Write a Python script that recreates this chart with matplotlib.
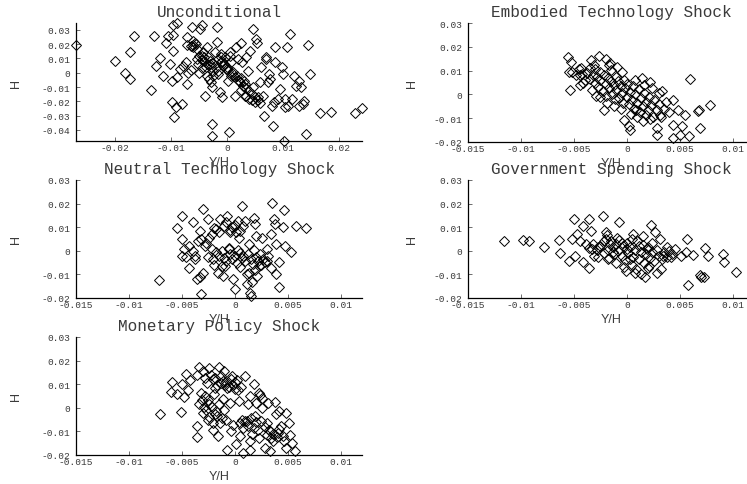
import matplotlib
matplotlib.use("Agg")
import matplotlib.pyplot as plt
import numpy as np

plt.rcParams["axes.unicode_minus"] = False

# ---- data (Y/H, H) ----
uncond_pts = [
    (-0.0270, 0.0196), (-0.0201, 0.0084), (-0.0167, 0.0254), (-0.0174, 0.0147), (-0.0182, 0.0000),
    (-0.0174, -0.0044), (-0.0136, -0.0124), (-0.0130, 0.0254), (-0.0126, 0.0049), (-0.0120, 0.0100),
    (-0.0114, -0.0026), (-0.0109, 0.0207), (-0.0105, 0.0254), (-0.0102, 0.0060), (-0.0099, -0.0060),
    (-0.0097, 0.0154), (-0.0096, 0.0330), (-0.0090, 0.0347), (-0.0096, 0.0260), (-0.0098, -0.0207),
    (-0.0091, -0.0242), (-0.0095, -0.0310), (-0.0081, -0.0220), (-0.0090, -0.0030), (-0.0084, 0.0026),
    (-0.0079, 0.0049), (-0.0073, 0.0072), (-0.0072, -0.0079), (-0.0072, 0.0247), (-0.0072, 0.0190),
    (-0.0063, 0.0317), (-0.0061, 0.0190), (-0.0060, 0.0224), (-0.0057, 0.0210), (-0.0054, 0.0165),
    (-0.0054, 0.0096), (-0.0051, 0.0060), (-0.0048, 0.0305), (-0.0045, 0.0330), (-0.0045, 0.0120),
    (-0.0042, 0.0142), (-0.0041, 0.0084), (-0.0039, -0.0160), (-0.0037, 0.0037), (-0.0036, 0.0177),
    (-0.0036, -0.0021), (-0.0033, 0.0107), (-0.0032, -0.0044), (-0.0030, 0.0060), (-0.0029, -0.0068),
    (-0.0027, -0.0103), (-0.0026, -0.0359), (-0.0027, -0.0440), (-0.0024, 0.0014), (-0.0021, 0.0142),
    (-0.0018, 0.0317), (-0.0017, 0.0217), (-0.0015, -0.0009), (-0.0013, -0.0138), (-0.0008, -0.0172),
    (-0.0010, 0.0072), (-0.0011, 0.0130), (-0.0007, 0.0049), (-0.0004, 0.0107), (0.0000, 0.0026),
    (0.0002, -0.0056), (0.0004, -0.0417), (0.0005, 0.0142), (0.0008, 0.0072), (0.0011, 0.0002),
    (0.0014, -0.0160), (0.0016, 0.0177), (0.0018, -0.0021), (0.0020, 0.0096), (0.0022, -0.0056),
    (0.0024, -0.0068), (0.0026, 0.0210), (0.0028, 0.0072), (0.0029, -0.0091), (0.0032, -0.0160),
    (0.0035, 0.0107), (0.0038, 0.0014), (0.0040, -0.0184), (0.0042, 0.0154), (0.0046, -0.0103),
    (0.0047, 0.0305), (0.0050, -0.0207), (0.0053, 0.0235), (0.0054, 0.0210), (0.0056, -0.0172),
    (0.0059, -0.0068), (0.0062, 0.0037), (0.0064, -0.0160), (0.0066, -0.0300), (0.0070, 0.0107),
    (0.0071, 0.0096), (0.0074, -0.0068), (0.0076, -0.0009), (0.0077, -0.0044), (0.0080, -0.0230),
    (0.0082, -0.0370), (0.0084, -0.0207), (0.0086, 0.0072), (0.0087, 0.0177), (0.0092, -0.0184),
    (0.0095, -0.0114), (0.0098, 0.0037), (0.0101, -0.0009), (0.0102, -0.0477), (0.0104, -0.0184),
    (0.0105, -0.0242), (0.0108, 0.0177), (0.0110, -0.0230), (0.0113, 0.0270), (0.0117, -0.0184),
    (0.0121, -0.0021), (0.0124, -0.0091), (0.0129, -0.0056), (0.0130, -0.0230), (0.0133, -0.0103),
    (0.0136, -0.0219), (0.0139, -0.0196), (0.0141, -0.0429), (0.0145, 0.0190), (0.0149, -0.0009),
    (0.0166, -0.0284), (0.0187, -0.0273), (0.0230, -0.0282), (0.0242, -0.0250),
    (-0.0050, 0.0120), (-0.0045, 0.0090), (-0.0040, 0.0110), (-0.0035, 0.0060), (-0.0030, 0.0080),
    (-0.0028, 0.0040), (-0.0025, 0.0070), (-0.0020, 0.0030), (-0.0015, 0.0095), (-0.0010, 0.0110),
    (-0.0008, 0.0080), (-0.0005, 0.0060), (0.0000, 0.0040), (0.0003, 0.0010), (0.0008, -0.0020),
    (0.0010, 0.0000), (0.0015, -0.0030), (0.0020, -0.0050), (0.0025, -0.0040), (0.0030, -0.0060),
    (0.0032, -0.0080), (0.0035, -0.0110), (0.0040, -0.0130), (0.0045, -0.0150), (0.0050, -0.0170),
    (0.0055, -0.0190), (0.0060, -0.0210), (0.0045, -0.0190), (0.0035, -0.0160), (0.0025, -0.0120),
    (-0.0055, 0.0200), (-0.0060, 0.0180), (-0.0065, 0.0185), (-0.0045, 0.0035), (-0.0050, 0.0000),
    (-0.0025, -0.0020), (-0.0015, 0.0015), (0.0005, 0.0120), (-0.0070, 0.0000), (-0.0065, 0.0020),
]

embodied_pts = [
    (-0.0056, 0.0156), (-0.0053, 0.0138), (-0.0055, 0.0096), (-0.0054, 0.0020), (-0.0043, 0.0110),
    (-0.0044, 0.0082), (-0.0041, 0.0047), (-0.0034, 0.0145), (-0.0031, 0.0124), (-0.0026, 0.0162),
    (-0.0020, 0.0148), (-0.0029, -0.0008), (-0.0022, -0.0064), (-0.0017, 0.0124), (-0.0016, 0.0131),
    (-0.0009, 0.0117), (-0.0005, 0.0096), (-0.0003, -0.0106), (0.0002, -0.0134), (0.0003, -0.0148),
    (0.0009, -0.0064), (0.0014, 0.0068), (0.0022, 0.0054), (0.0028, -0.0141), (0.0028, -0.0169),
    (0.0033, 0.0013), (0.0031, -0.0085), (0.0044, -0.0022), (0.0044, -0.0127), (0.0044, -0.0183),
    (0.0048, -0.0064), (0.0052, -0.0134), (0.0050, -0.0169), (0.0055, -0.0085), (0.0060, 0.0066),
    (0.0059, -0.0176), (0.0067, -0.0071), (0.0068, -0.0064), (0.0069, -0.0141), (0.0078, -0.0043),
    (-0.0045, 0.0105), (-0.0042, 0.0085), (-0.0040, 0.0060), (-0.0038, 0.0090), (-0.0035, 0.0110),
    (-0.0035, 0.0065), (-0.0032, 0.0080), (-0.0030, 0.0105), (-0.0030, 0.0050), (-0.0028, 0.0072),
    (-0.0027, 0.0030), (-0.0025, 0.0095), (-0.0025, 0.0060), (-0.0023, 0.0015), (-0.0022, 0.0082),
    (-0.0020, 0.0045), (-0.0020, -0.0005), (-0.0018, 0.0070), (-0.0017, 0.0025), (-0.0015, 0.0102),
    (-0.0015, 0.0055), (-0.0014, 0.0000), (-0.0012, 0.0040), (-0.0011, -0.0020), (-0.0010, 0.0075),
    (-0.0010, 0.0020), (-0.0008, 0.0058), (-0.0007, -0.0015), (-0.0006, 0.0035), (-0.0005, 0.0005),
    (-0.0004, -0.0035), (-0.0003, 0.0062), (-0.0002, 0.0025), (0.0000, -0.0010), (0.0000, 0.0042),
    (0.0002, -0.0040), (0.0003, 0.0012), (0.0005, -0.0025), (0.0006, 0.0035), (0.0007, -0.0060),
    (0.0008, 0.0000), (0.0010, -0.0035), (0.0011, 0.0022), (0.0012, -0.0075), (0.0013, -0.0015),
    (0.0015, -0.0050), (0.0016, 0.0005), (0.0018, -0.0085), (0.0018, -0.0030), (0.0020, -0.0065),
    (0.0021, -0.0010), (0.0023, -0.0045), (0.0025, -0.0095), (0.0026, -0.0025), (0.0028, -0.0065),
    (0.0030, -0.0040), (0.0032, -0.0095), (0.0035, -0.0060), (0.0037, -0.0030), (0.0040, -0.0075),
    (-0.0033, 0.0018), (-0.0025, -0.0010), (-0.0019, -0.0035), (-0.0012, -0.0050), (-0.0006, -0.0060),
    (0.0004, -0.0082), (0.0010, -0.0095), (0.0015, -0.0110), (0.0022, -0.0105), (0.0008, 0.0060),
    (0.0016, 0.0040), (0.0024, 0.0025), (0.0030, 0.0005), (-0.0048, 0.0080), (-0.0052, 0.0095),
    (-0.0044, 0.0040),
]

neutral_pts = [
    (-0.0072, -0.0123), (-0.0055, 0.0095), (-0.0050, 0.0148), (-0.0040, 0.0123), (-0.0030, 0.0177),
    (-0.0025, 0.0134), (-0.0050, 0.0049), (-0.0048, 0.0007), (-0.0050, -0.0024), (-0.0046, -0.0028),
    (-0.0043, 0.0021), (-0.0043, -0.0071), (-0.0038, -0.0035), (-0.0036, -0.0120), (-0.0033, -0.0113),
    (-0.0032, -0.0184), (-0.0030, -0.0092), (-0.0033, 0.0085), (-0.0032, 0.0052), (-0.0027, 0.0035),
    (-0.0024, 0.0056), (-0.0022, 0.0007), (-0.0021, -0.0035), (-0.0018, 0.0092), (-0.0016, -0.0092),
    (-0.0014, 0.0134), (-0.0012, -0.0064), (-0.0011, -0.0106), (-0.0008, 0.0120), (-0.0007, 0.0148),
    (-0.0006, 0.0007), (-0.0005, 0.0078), (-0.0003, 0.0099), (-0.0002, -0.0120), (0.0000, -0.0162),
    (0.0001, 0.0078), (0.0003, 0.0127), (0.0004, 0.0056), (0.0007, 0.0188), (0.0008, -0.0021),
    (0.0010, 0.0127), (0.0011, -0.0099), (0.0011, -0.0141), (0.0013, -0.0092), (0.0014, -0.0177),
    (0.0015, -0.0191), (0.0016, -0.0131), (0.0018, 0.0141), (0.0019, 0.0113), (0.0020, 0.0064),
    (0.0021, -0.0106), (0.0023, -0.0064), (0.0026, 0.0056), (0.0028, -0.0049), (0.0030, 0.0007),
    (0.0031, -0.0021), (0.0034, -0.0071), (0.0035, 0.0202), (0.0034, 0.0071), (0.0037, 0.0134),
    (0.0038, 0.0113), (0.0039, 0.0028), (0.0039, -0.0099), (0.0042, -0.0155), (0.0042, -0.0049),
    (0.0045, 0.0099), (0.0046, 0.0174), (0.0047, 0.0021), (0.0053, -0.0007), (0.0058, 0.0106),
    (0.0067, 0.0097),
    (-0.0015, -0.0020), (-0.0010, -0.0030), (-0.0008, -0.0045), (-0.0005, -0.0015), (-0.0003, -0.0035),
    (0.0000, -0.0020), (0.0002, -0.0050), (0.0005, -0.0010), (0.0007, -0.0030), (0.0010, -0.0045),
    (0.0012, -0.0015), (0.0015, -0.0035), (0.0017, -0.0055), (0.0020, -0.0025), (0.0022, -0.0045),
    (0.0025, -0.0060), (0.0027, -0.0035), (-0.0012, 0.0000), (-0.0006, 0.0010), (0.0003, 0.0005),
    (-0.0020, 0.0095), (-0.0015, 0.0080), (-0.0010, 0.0105), (-0.0005, 0.0090), (0.0000, 0.0110),
    (0.0005, 0.0085), (0.0008, 0.0105), (-0.0022, 0.0070), (-0.0018, -0.0005), (-0.0025, -0.0025),
    (-0.0028, 0.0020), (0.0013, 0.0030), (0.0018, 0.0005), (0.0024, -0.0015), (0.0030, -0.0045),
    (-0.0009, -0.0065), (0.0005, -0.0070), (0.0019, -0.0080), (-0.0020, -0.0060), (-0.0035, 0.0040),
    (-0.0040, 0.0000), (-0.0038, -0.0020),
]

government_pts = [
    (-0.0116, 0.0042), (-0.0098, 0.0045), (-0.0092, 0.0042), (-0.0078, 0.0014), (-0.0064, 0.0047),
    (-0.0063, -0.0010), (-0.0055, -0.0042), (-0.0052, 0.0052), (-0.0050, 0.0134), (-0.0049, -0.0021),
    (-0.0047, 0.0071), (-0.0044, 0.0042), (-0.0041, -0.0049), (-0.0041, 0.0103), (-0.0039, 0.0028),
    (-0.0036, 0.0134), (-0.0036, -0.0071), (-0.0034, 0.0085), (-0.0033, 0.0007), (-0.0031, -0.0021),
    (-0.0027, 0.0014), (-0.0023, 0.0148), (-0.0022, 0.0042), (-0.0020, 0.0080), (-0.0018, -0.0035),
    (-0.0016, 0.0028), (-0.0013, -0.0007), (-0.0009, 0.0056), (-0.0007, 0.0123), (-0.0005, 0.0035),
    (-0.0001, -0.0085), (0.0000, 0.0007), (0.0003, -0.0035), (0.0006, 0.0071), (0.0008, -0.0092),
    (0.0011, 0.0021), (0.0013, -0.0099), (0.0015, 0.0064), (0.0017, -0.0113), (0.0019, 0.0007),
    (0.0020, -0.0071), (0.0023, 0.0109), (0.0024, 0.0035), (0.0027, 0.0078), (0.0028, -0.0092),
    (0.0031, 0.0049), (0.0032, -0.0078), (0.0034, -0.0021), (0.0038, 0.0014), (0.0042, -0.0028),
    (0.0045, 0.0007), (0.0051, -0.0021), (0.0057, 0.0049), (0.0058, -0.0145), (0.0056, -0.0007),
    (0.0062, -0.0018), (0.0069, -0.0103), (0.0070, -0.0109), (0.0073, -0.0109), (0.0074, 0.0010),
    (0.0077, -0.0021), (0.0091, -0.0014), (0.0092, -0.0049), (0.0103, -0.0089),
    (-0.0025, 0.0020), (-0.0022, -0.0010), (-0.0020, 0.0050), (-0.0018, 0.0005), (-0.0017, -0.0030),
    (-0.0015, 0.0040), (-0.0013, 0.0015), (-0.0012, -0.0015), (-0.0010, 0.0030), (-0.0010, -0.0050),
    (-0.0008, 0.0000), (-0.0007, 0.0045), (-0.0005, -0.0020), (-0.0004, 0.0020), (-0.0002, -0.0040),
    (0.0000, 0.0035), (0.0001, -0.0010), (0.0003, 0.0015), (0.0005, -0.0060), (0.0006, -0.0025),
    (0.0008, 0.0005), (0.0010, 0.0040), (0.0011, -0.0035), (0.0013, -0.0005), (0.0015, 0.0025),
    (0.0016, -0.0050), (0.0018, -0.0015), (0.0020, 0.0015), (0.0022, -0.0030), (0.0024, -0.0005),
    (0.0026, -0.0045), (0.0028, 0.0005), (0.0030, -0.0020), (0.0033, -0.0035), (0.0035, -0.0005),
    (0.0038, -0.0025), (0.0040, 0.0000), (0.0043, -0.0015), (-0.0028, 0.0005), (-0.0032, 0.0030),
    (-0.0036, 0.0010), (-0.0027, -0.0025), (-0.0019, 0.0065), (0.0005, 0.0050), (-0.0003, -0.0070),
    (0.0021, -0.0065), (0.0009, -0.0075),
]

monetary_pts = [
    (-0.0071, -0.0028), (-0.0051, -0.0017), (-0.0059, 0.0111), (-0.0060, 0.0068), (-0.0055, 0.0060),
    (-0.0050, 0.0099), (-0.0048, 0.0045), (-0.0046, 0.0145), (-0.0044, 0.0074), (-0.0042, 0.0116),
    (-0.0036, -0.0078), (-0.0036, -0.0125), (-0.0036, 0.0139), (-0.0034, 0.0173), (-0.0034, 0.0014),
    (-0.0032, 0.0064), (-0.0030, -0.0021), (-0.0030, 0.0156), (-0.0028, 0.0050), (-0.0025, -0.0050),
    (-0.0024, 0.0170), (-0.0024, 0.0014), (-0.0021, -0.0092), (-0.0021, 0.0121), (-0.0019, 0.0085),
    (-0.0018, -0.0014), (-0.0016, -0.0121), (-0.0015, 0.0173), (-0.0014, -0.0064), (-0.0013, 0.0107),
    (-0.0011, 0.0036), (-0.0010, 0.0156), (-0.0008, -0.0050), (-0.0007, 0.0082), (-0.0007, -0.0178),
    (-0.0005, 0.0021), (-0.0004, -0.0099), (-0.0003, 0.0135), (-0.0002, -0.0071), (0.0000, 0.0078),
    (0.0001, -0.0153), (0.0002, 0.0116), (0.0004, 0.0028), (0.0005, -0.0121), (0.0007, -0.0050),
    (0.0008, -0.0192), (0.0010, 0.0135), (0.0011, -0.0057), (0.0012, 0.0014), (0.0014, -0.0178),
    (0.0014, -0.0142), (0.0016, -0.0111), (0.0018, 0.0102), (0.0019, -0.0036), (0.0020, 0.0021),
    (0.0023, 0.0064), (0.0023, -0.0128), (0.0025, -0.0057), (0.0026, 0.0000), (0.0028, -0.0170),
    (0.0030, -0.0064), (0.0031, 0.0021), (0.0033, -0.0185), (0.0033, -0.0099), (0.0036, -0.0142),
    (0.0038, 0.0026), (0.0039, -0.0028), (0.0041, -0.0107), (0.0042, -0.0014), (0.0044, -0.0078),
    (0.0045, -0.0121), (0.0046, -0.0142), (0.0048, -0.0021), (0.0048, -0.0170), (0.0051, -0.0064),
    (0.0052, -0.0114), (0.0054, -0.0149), (0.0057, -0.0182),
    (-0.0025, 0.0035), (-0.0022, 0.0005), (-0.0020, 0.0060), (-0.0017, -0.0035), (-0.0015, 0.0015),
    (-0.0012, -0.0045), (-0.0010, -0.0010), (-0.0008, 0.0110), (-0.0006, 0.0090), (-0.0004, 0.0120),
    (-0.0002, 0.0095), (0.0000, 0.0110), (0.0003, 0.0075), (0.0005, -0.0065), (0.0008, -0.0085),
    (0.0010, -0.0055), (0.0012, -0.0075), (0.0015, -0.0045), (0.0018, -0.0085), (0.0020, -0.0060),
    (0.0022, -0.0095), (0.0024, 0.0055), (0.0026, 0.0040), (0.0028, -0.0080), (0.0030, -0.0115),
    (0.0032, -0.0095), (0.0034, -0.0130), (0.0036, -0.0110), (0.0040, -0.0125), (0.0042, -0.0090),
    (-0.0028, 0.0125), (-0.0026, 0.0105), (-0.0023, 0.0140), (-0.0019, 0.0125), (-0.0017, 0.0095),
    (-0.0013, 0.0135), (-0.0011, 0.0115), (-0.0009, 0.0095), (0.0006, 0.0090), (0.0014, 0.0050),
    (-0.0031, 0.0035), (-0.0029, 0.0005), (-0.0027, -0.0010), (-0.0024, -0.0040), (-0.0021, -0.0065),
    (-0.0019, -0.0025),
]

titles = ["Unconditional", "Embodied Technology Shock", "Neutral Technology Shock",
          "Government Spending Shock", "Monetary Policy Shock"]

uncond_xticks = [-0.02, -0.01, 0, 0.01, 0.02]
uncond_yticks = [-0.04, -0.03, -0.02, -0.01, 0, 0.01, 0.02, 0.03]
shock_xticks = [-0.015, -0.01, -0.005, 0, 0.005, 0.01]
shock_yticks = [-0.02, -0.01, 0, 0.01, 0.02, 0.03]

# ---- layout (pixel boxes of the MATLAB subplots) ----
W, H = 747, 485
boxes = [  # left, top, right, bottom in pixels
    (76, 24, 362, 142),
    (468, 24, 754, 143),
    (76, 181, 362, 299),
    (468, 181, 754, 299),
    (76, 338, 362, 456),
]

MONO = ["Liberation Mono", "DejaVu Sans Mono"]
SANS = ["Liberation Sans", "DejaVu Sans"]
TXT = "#3a3a3a"

fig = plt.figure(figsize=(W / 100, H / 100), dpi=100)

panels = [uncond_pts, embodied_pts, neutral_pts, government_pts, monetary_pts]
for i, (pts, title, (l, t, r, b)) in enumerate(zip(panels, titles, boxes)):
    ax = fig.add_axes([l / W, 1 - b / H, (r - l) / W, (b - t) / H])
    xy = np.array(pts)
    ax.plot(xy[:, 0], xy[:, 1], linestyle="none", marker="D", markersize=4.8,
            markerfacecolor="none", markeredgecolor="black", markeredgewidth=0.7,
            clip_on=False)

    if i == 0:
        xt, yt = uncond_xticks, uncond_yticks
        ax.set_xlim(-0.0270, 0.0242)
        ax.set_ylim(-0.0477, 0.0347)
    else:
        xt, yt = shock_xticks, shock_yticks
        ax.set_xlim(-0.015, 0.012)
        ax.set_ylim(-0.02, 0.03)

    ax.set_xticks(xt)
    ax.set_xticklabels(["%g" % v for v in xt])
    ax.set_yticks(yt)
    ax.set_yticklabels(["%g" % v for v in yt])

    for s in ("top", "right"):
        ax.spines[s].set_visible(False)
    for s in ("left", "bottom"):
        ax.spines[s].set_linewidth(0.9)
        ax.spines[s].set_color("black")

    ax.tick_params(direction="in", length=3, width=0.6, color="#555555",
                   labelsize=6.8, labelcolor=TXT)
    ax.tick_params(axis="x", pad=1.5)
    ax.tick_params(axis="y", pad=4)
    for lab in ax.get_xticklabels() + ax.get_yticklabels():
        lab.set_family(MONO)

    ax.set_title(title, family=MONO, fontsize=11.5, color=TXT, pad=5)
    ax.set_xlabel("Y/H", family=SANS, fontsize=9, color=TXT)
    ax.xaxis.set_label_coords(0.5, -0.18)
    ax.xaxis.label.set_va("center")
    ax.set_ylabel("H", family=SANS, fontsize=9, color=TXT)
    ax.yaxis.set_label_coords(-0.21 if l < 100 else -0.195, 0.5)
    ax.yaxis.label.set_va("center")

fig.savefig("out.png", dpi=100, facecolor="white")
